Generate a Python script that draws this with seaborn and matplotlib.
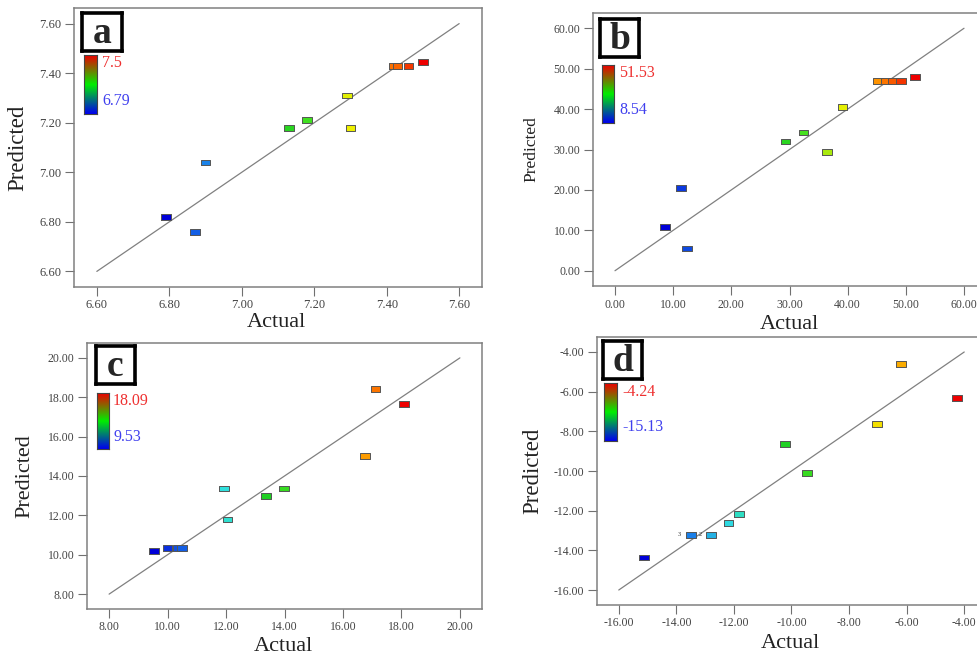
import numpy as np
import pandas as pd
import matplotlib
matplotlib.use('Agg')
import matplotlib.pyplot as plt
from matplotlib.colors import LinearSegmentedColormap
import seaborn as sns

# data
a_actual = [6.79, 6.87, 6.90, 7.13, 7.18, 7.29, 7.30, 7.42, 7.43, 7.46, 7.50]
a_pred = [6.82, 6.76, 7.04, 7.18, 7.21, 7.31, 7.18, 7.43, 7.43, 7.43, 7.445]
a_ticks = [6.60, 6.80, 7.00, 7.20, 7.40, 7.60]

b_actual = [8.54, 11.4, 12.4, 29.3, 32.4, 36.5, 39.1, 45.2, 46.6, 47.8, 49.2, 51.53]
b_pred = [10.9, 20.4, 5.5, 32.0, 34.2, 29.4, 40.6, 47.0, 47.0, 47.0, 47.0, 47.9]
b_ticks = [0.0, 10.0, 20.0, 30.0, 40.0, 50.0, 60.0]

c_actual = [9.53, 10.0, 10.34, 10.48, 11.94, 12.05, 13.36, 13.98, 16.75, 17.11, 18.09]
c_pred = [10.19, 10.34, 10.34, 10.34, 13.36, 11.79, 12.99, 13.36, 15.03, 18.42, 17.67]
c_ticks = [8.0, 10.0, 12.0, 14.0, 16.0, 18.0, 20.0]

d_actual = [-15.13, -13.50, -12.79, -12.19, -11.81, -10.24, -9.47, -7.02, -6.21, -4.24]
d_pred = [-14.36, -13.22, -13.22, -12.61, -12.18, -8.64, -10.10, -7.64, -4.60, -6.33]
d_ticks = [-16.0, -14.0, -12.0, -10.0, -8.0, -6.0, -4.0]
d_counts = {1: '3', 2: '2'}

bar_hi = ['7.5', '51.53', '18.09', '-4.24']
bar_lo = ['6.79', '8.54', '9.53', '-15.13']
letters = ['a', 'b', 'c', 'd']

sns.set_style('white')
plt.rcParams['font.family'] = ['Liberation Serif', 'DejaVu Serif']
plt.rcParams['axes.unicode_minus'] = False

W, H = 977, 656
fig = plt.figure(figsize=(9.77, 6.56), dpi=100)
fig.patch.set_facecolor('white')

pt_cmap = LinearSegmentedColormap.from_list('pts', [
    (0.0, '#0000d8'), (0.15, '#1a80e8'), (0.28, '#30e0e0'), (0.45, '#20d020'),
    (0.55, '#40e020'), (0.72, '#f0f000'), (0.86, '#ff9000'), (1.0, '#ee0000')])
bar_cmap = LinearSegmentedColormap.from_list('bar', ['#0000ee', '#00ee00', '#ee0000'])

rect_marker = [(-1, -0.58), (1, -0.58), (1, 0.58), (-1, 0.58), (-1, -0.58)]


def px_box(x0, y0, x1, y1):
    return [x0 / W, 1 - y1 / H, (x1 - x0) / W, (y1 - y0) / H]


panels = [
    dict(act=a_actual, pred=a_pred, ticks=a_ticks, ax=(74, 8, 482, 287), tfs=9,
         ylab=(-0.113, 16.5), xlab=(0.495, -0.093),
         box=(82, 13, 122, 51), bar=(84, 55, 97, 114), btx=102, bty=(63, 101)),
    dict(act=b_actual, pred=b_pred, ticks=b_ticks, ax=(593, 13, 986, 286), tfs=8.5,
         ylab=(-0.137, 12.5), xlab=(0.50, -0.106),
         box=(600, 19, 639, 57), bar=(602, 65, 614, 123), btx=619, bty=(73, 110)),
    dict(act=c_actual, pred=c_pred, ticks=c_ticks, ax=(87, 343, 482, 609), tfs=8.5,
         ylab=(-0.134, 16), xlab=(0.496, -0.105),
         box=(96, 346, 135, 384), bar=(97, 393, 109, 449), btx=113, bty=(401, 437)),
    dict(act=d_actual, pred=d_pred, ticks=d_ticks, ax=(597, 337, 986, 605), tfs=8.5,
         ylab=(-0.139, 16.5), xlab=(0.496, -0.108),
         box=(603, 341, 642, 379), bar=(604, 383, 617, 441), btx=622, bty=(392, 427)),
]

for i, p in enumerate(panels):
    ax = fig.add_axes(px_box(*p['ax']))
    df = pd.DataFrame({'Actual': p['act'], 'Predicted': p['pred']})
    lo, hi = p['ticks'][0], p['ticks'][-1]
    pad = 0.063 * (hi - lo)

    sns.lineplot(x=[lo, hi], y=[lo, hi], ax=ax, color='#808080', lw=0.9)
    sns.scatterplot(data=df, x='Actual', y='Predicted', hue='Actual', palette=pt_cmap,
                    hue_norm=(min(p['act']), max(p['act'])), marker=rect_marker,
                    s=50, edgecolor='#555555', linewidth=0.7, legend=False, ax=ax, zorder=3)

    ax.set_xlim(lo - pad, hi + pad)
    ax.set_ylim(lo - pad, hi + pad)
    ax.set_xticks(p['ticks'])
    ax.set_yticks(p['ticks'])
    ax.set_xticklabels([f'{t:.2f}' for t in p['ticks']])
    ax.set_yticklabels([f'{t:.2f}' for t in p['ticks']])
    ax.tick_params(axis='both', direction='out', length=6.5, width=0.8, color='#707070',
                   labelsize=p['tfs'], labelcolor='#444444', left=True, bottom=True, pad=2.5)
    for s in ax.spines.values():
        s.set_color('#808080')
        s.set_linewidth(1.1)
    ax.set_facecolor('white')

    ax.set_ylabel('Predicted', fontsize=p['ylab'][1], color='#222222')
    ax.yaxis.set_label_coords(p['ylab'][0], 0.5)
    ax.set_xlabel('Actual', fontsize=16, color='#222222', va='top')
    ax.xaxis.set_label_coords(p['xlab'][0], p['xlab'][1])

    if i == 3:
        for k, lab in d_counts.items():
            ax.annotate(lab, (p['act'][k], p['pred'][k]), xytext=(-8, 0),
                        textcoords='offset points', fontsize=4.5, va='center', ha='center')

    # panel letter box
    bx = fig.add_axes(px_box(*p['box']))
    bx.set_xticks([])
    bx.set_yticks([])
    for s in bx.spines.values():
        s.set_color('black')
        s.set_linewidth(2.6)
    bx.text(0.5, 0.45, letters[i], ha='center', va='center', fontsize=27,
            fontweight='bold', transform=bx.transAxes)

    # gradient bar
    cx = fig.add_axes(px_box(*p['bar']))
    cx.imshow(np.linspace(1, 0, 100).reshape(-1, 1), cmap=bar_cmap, aspect='auto')
    cx.set_xticks([])
    cx.set_yticks([])
    for s in cx.spines.values():
        s.set_color('#444444')
        s.set_linewidth(0.8)
    fig.text(p['btx'] / W, 1 - p['bty'][0] / H, bar_hi[i], color='#ee3030',
             fontsize=11.5, va='center', ha='left')
    fig.text(p['btx'] / W, 1 - p['bty'][1] / H, bar_lo[i], color='#4040ee',
             fontsize=11.5, va='center', ha='left')

fig.savefig('out.png', dpi=100, facecolor='white')
